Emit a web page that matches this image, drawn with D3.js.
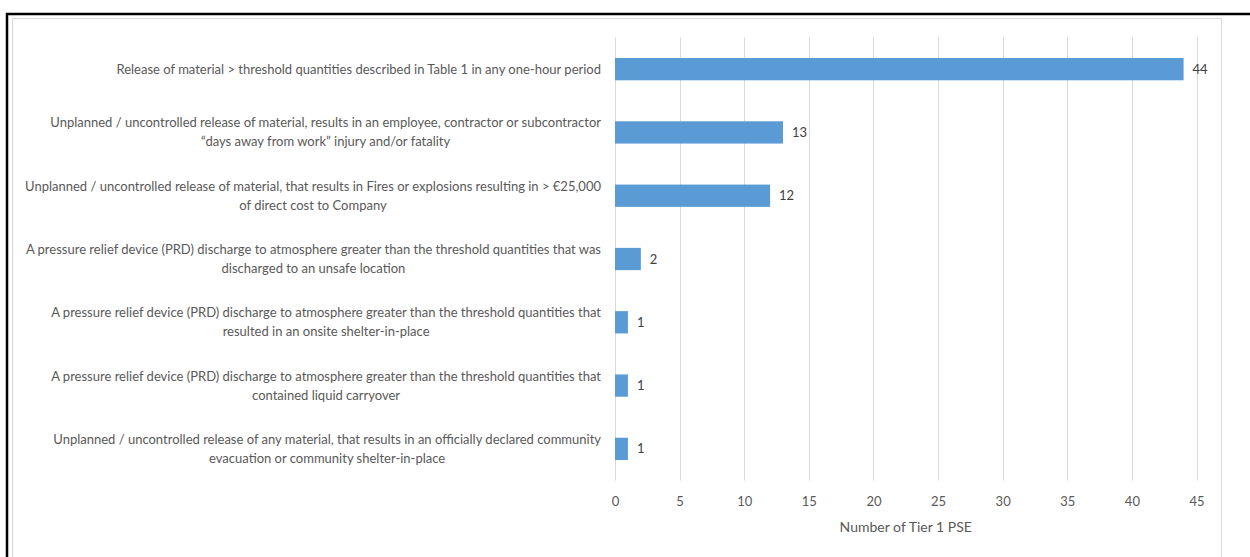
<!DOCTYPE html>
<html>
<head>
<meta charset="utf-8">
<script src="https://cdn.jsdelivr.net/npm/d3@7"></script>
<style>
  html, body { margin: 0; padding: 0; background: #fff; }
  svg { display: block; }
  text { font-family: Lato, 'Open Sans', sans-serif; }
</style>
</head>
<body>
<svg id="chart" width="1250" height="557"></svg>
<script>
// Tier 1 PSE categories (each entry is a list of label lines), top to bottom
const categories = [
  ["Release of material > threshold quantities described in Table 1 in any one-hour period"],
  ["Unplanned / uncontrolled release of material, results in an employee, contractor or subcontractor",
   "\u201cdays away from work\u201d injury and/or fatality"],
  ["Unplanned /  uncontrolled release of material, that results in Fires or explosions resulting in > \u20ac25,000",
   "of direct cost to Company"],
  ["A pressure relief device (PRD) discharge to atmosphere greater than the threshold quantities that was",
   "discharged to an unsafe location"],
  ["A pressure relief device (PRD) discharge to atmosphere greater than the threshold quantities that",
   "resulted in an onsite shelter-in-place"],
  ["A pressure relief device (PRD) discharge to atmosphere greater than the threshold quantities that",
   "contained liquid carryover"],
  ["Unplanned / uncontrolled release of any material, that results in an officially declared community",
   "evacuation or community shelter-in-place"]
];
const counts = [44, 13, 12, 2, 1, 1, 1];
const xTicks = [0, 5, 10, 15, 20, 25, 30, 35, 40, 45];
const xTitle = "Number of Tier 1 PSE";

const svg = d3.select("#chart");

// outer frame
svg.append("path")
  .attr("d", "M7,557 V14 H1250")
  .attr("fill", "none").attr("stroke", "#000").attr("stroke-width", 2.5);
// chart area border
svg.append("path")
  .attr("d", "M12.5,557 V18.5 H1221.5 V557")
  .attr("fill", "none").attr("stroke", "#d9d9d9").attr("stroke-width", 1);

const plot = { left: 615, right: 1196.5, top: 37.5, bottom: 480.5 };

const x = d3.scaleLinear().domain([0, 45]).range([plot.left, plot.right]);
const y = d3.scaleBand()
  .domain(d3.range(categories.length))
  .range([plot.top, plot.bottom])
  .paddingInner(0.648).paddingOuter(0.324);

// vertical gridlines
svg.append("g")
  .selectAll("line").data(xTicks).join("line")
  .attr("x1", d => Math.round(x(d)) + 0.5).attr("x2", d => Math.round(x(d)) + 0.5)
  .attr("y1", plot.top).attr("y2", plot.bottom)
  .attr("stroke", "#d9d9d9").attr("stroke-width", 1);

// x axis tick labels
const xAxis = d3.axisBottom(x).tickValues(xTicks).tickSize(0).tickPadding(0);
const gx = svg.append("g").attr("transform", `translate(0,${plot.bottom})`).call(xAxis);
gx.select(".domain").remove();
gx.selectAll("text")
  .attr("y", 21).attr("dy", "0.35em")
  .attr("fill", "#595959").style("font-size", "13px")
  .style("font-family", "Lato, 'Open Sans', sans-serif");

// axis title
svg.append("text")
  .attr("x", (plot.left + plot.right) / 2).attr("y", 527)
  .attr("dy", "0.35em")
  .attr("text-anchor", "middle").attr("fill", "#595959")
  .style("font-size", "14px").text(xTitle);

// bars
svg.append("g")
  .selectAll("rect").data(counts).join("rect")
  .attr("x", x(0))
  .attr("y", (d, i) => y(i))
  .attr("width", d => x(d) - x(0))
  .attr("height", y.bandwidth())
  .attr("fill", "#5b9bd5");

// value labels
svg.append("g")
  .selectAll("text").data(counts).join("text")
  .attr("x", d => x(d) + 9)
  .attr("y", (d, i) => y(i) + y.bandwidth() / 2)
  .attr("dy", "0.35em")
  .attr("fill", "#404040").style("font-size", "13px")
  .text(d => d);

// category labels: block right-aligned, lines centred within the block
const labelRight = 601;
const lineH = 19;
const lg = svg.append("g");
categories.forEach((lines, i) => {
  const cy = y(i) + y.bandwidth() / 2;
  const g = lg.append("g");
  const ts = lines.map((ln, j) => g.append("text")
    .attr("y", cy + (j - (lines.length - 1) / 2) * lineH)
    .attr("dy", "0.35em")
    .attr("fill", "#595959").style("font-size", "13px")
    .text(ln));
  const w = d3.max(ts, t => t.node().getComputedTextLength());
  ts.forEach(t => t.attr("x", labelRight - w / 2).attr("text-anchor", "middle"));
});
</script>
</body>
</html>
